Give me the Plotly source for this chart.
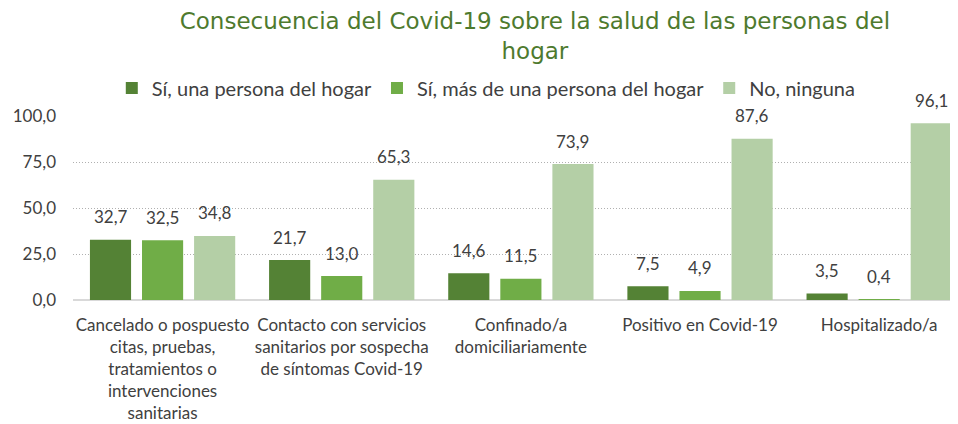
import plotly.graph_objects as go

categories = [
    "Cancelado o pospuesto<br>citas, pruebas,<br>tratamientos o<br>intervenciones<br>sanitarias",
    "Contacto con servicios<br>sanitarios por sospecha<br>de síntomas Covid-19",
    "Confinado/a<br>domiciliariamente",
    "Positivo en Covid-19",
    "Hospitalizado/a",
]
series_names = ["Sí, una persona del hogar", "Sí, más de una persona del hogar", "No, ninguna"]
una = [32.7, 21.7, 14.6, 7.5, 3.5]
mas_de_una = [32.5, 13.0, 11.5, 4.9, 0.4]
ninguna = [34.8, 65.3, 73.9, 87.6, 96.1]
colors = ["#548235", "#70AD47", "#B4CFA6"]
tick_vals = [0, 25, 50, 75, 100]
tick_text = ["0,0", "25,0", "50,0", "75,0", "100,0"]

FONT = "Lato"
BARGAP = 0.128
all_series = [una, mas_de_una, ninguna]
n = len(all_series)

fig = go.Figure()
annotations = []
for j, (name, vals, col) in enumerate(zip(series_names, all_series, colors)):
    fig.add_trace(go.Bar(
        x=list(range(len(categories))), y=vals, name=name,
        marker=dict(color=col, line=dict(width=0)),
    ))
    slot = (1 - BARGAP) / n
    for i, v in enumerate(vals):
        annotations.append(dict(
            x=i + (j - (n - 1) / 2) * slot, y=v, xref="x", yref="y",
            text=f"{v:.1f}".replace(".", ","), showarrow=False,
            yanchor="middle", yshift=23,
            font=dict(family=FONT, size=17, color="#404040"),
        ))

fig.update_layout(
    width=958, height=424,
    paper_bgcolor="white", plot_bgcolor="white",
    margin=dict(l=65, r=8, t=108, b=132, autoexpand=False),
    barmode="group", bargap=BARGAP, bargroupgap=0.21,
    annotations=annotations,
    title=dict(
        text="Consecuencia del Covid-19 sobre la salud de las personas del<br>hogar",
        x=0.55, xanchor="center", y=0.95, yanchor="middle",
        font=dict(family="DejaVu Sans", size=23, color="#4E7A2E"),
    ),
    legend=dict(
        orientation="h", x=0.467, xanchor="center", y=1.152, yanchor="middle",
        font=dict(family=FONT, size=20, color="#404040"),
        itemwidth=30, traceorder="normal",
    ),
    xaxis=dict(
        range=[-0.5, 4.44], automargin=False, tickangle=0,
        tickmode="array", tickvals=list(range(len(categories))), ticktext=categories,
        tickfont=dict(family=FONT, size=17, color="#404040"),
        showgrid=False, showline=False, ticks="", zeroline=False,
        ticklabelstandoff=13,
    ),
    yaxis=dict(
        range=[0, 100], automargin=False, tickmode="array", tickvals=tick_vals, ticktext=tick_text,
        tickfont=dict(family=FONT, size=17, color="#404040"),
        showgrid=True, gridcolor="#B0B0B0", griddash="1px,2px", gridwidth=1,
        zeroline=True, zerolinecolor="#D9D9D9", zerolinewidth=2,
        showline=False, ticks="", ticklabelstandoff=16,
    ),
)
fig.write_html("out.html")
